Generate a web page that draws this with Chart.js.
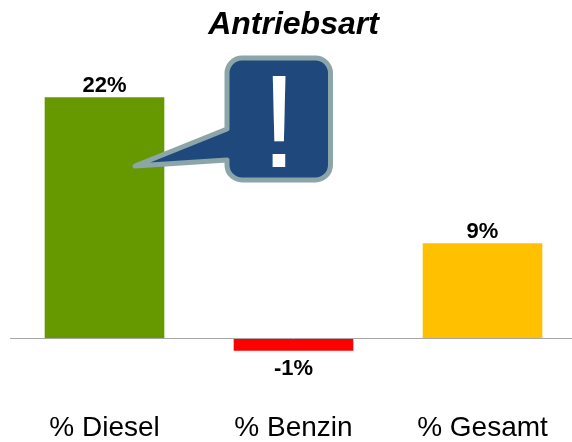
<!DOCTYPE html>
<html><head><meta charset="utf-8">
<style>html,body{margin:0;padding:0;background:#fff;overflow:hidden}#w{position:absolute;left:0;top:0;width:572px;height:442px;overflow:hidden}#w div{position:relative;width:584px;height:455px}</style>
<script src="https://cdn.jsdelivr.net/npm/chart.js@4"></script>
</head><body><div id="w"><div><canvas id="c"></canvas></div></div>
<script>
const categories = ['% Diesel', '% Benzin', '% Gesamt'];
const values = [22, -1.1, 8.7];
const valueLabels = ['22%', '-1%', '9%'];
const barColors = ['#669900', '#FF0000', '#FFC000'];
const FONT = '"Liberation Sans", Arial, sans-serif';

const valueLabelPlugin = {
  id: 'valueLabels',
  afterDatasetsDraw(chart) {
    const ctx = chart.ctx, meta = chart.getDatasetMeta(0);
    ctx.save();
    ctx.font = 'bold 22px ' + FONT;
    ctx.fillStyle = '#000';
    ctx.textAlign = 'center';
    meta.data.forEach((bar, i) => {
      const neg = values[i] < 0;
      ctx.textBaseline = 'alphabetic';
      ctx.fillText(valueLabels[i], bar.x, neg ? bar.y + 24 : bar.y - 5);
    });
    ctx.restore();
  }
};

const calloutPlugin = {
  id: 'callout',
  afterDatasetsDraw(chart) {
    const ctx = chart.ctx;
    const l = 227, r = 330.5, t = 58, b = 180, rad = 15;
    ctx.save();
    ctx.beginPath();
    ctx.moveTo(l + rad, t);
    ctx.arcTo(r, t, r, t + rad, rad);
    ctx.arcTo(r, b, r - rad, b, rad);
    ctx.arcTo(l, b, l, b - rad, rad);
    ctx.lineTo(l, 160);
    ctx.lineTo(135, 166);
    ctx.lineTo(l, 129);
    ctx.arcTo(l, t, l + rad, t, rad);
    ctx.closePath();
    ctx.fillStyle = '#1F497D';
    ctx.fill();
    ctx.lineWidth = 5;
    ctx.lineJoin = 'round';
    ctx.strokeStyle = '#8CA5A9';
    ctx.stroke();
    ctx.font = '132px ' + FONT;
    ctx.fillStyle = '#fff';
    ctx.textAlign = 'center';
    ctx.textBaseline = 'alphabetic';
    ctx.fillText('!', 279, 167);
    ctx.restore();
  }
};

new Chart(document.getElementById('c'), {
  type: 'bar',
  data: { labels: categories, datasets: [{ data: values, backgroundColor: barColors, categoryPercentage: 1, barPercentage: 0.633 }] },
  plugins: [valueLabelPlugin, calloutPlugin],
  options: {
    responsive: true, maintainAspectRatio: false, animation: false,
    layout: { padding: { left: 10, right: 7, top: 0, bottom: 3 } },
    plugins: {
      legend: { display: false }, tooltip: { enabled: false },
      title: { display: true, text: 'Antriebsart', color: '#000',
        font: { family: FONT, size: 32, weight: 'bold', style: 'italic' }, padding: { top: 6, bottom: 20 } }
    },
    scales: {
      x: { border: { display: false }, grid: { display: false, drawTicks: false },
        ticks: { color: '#000', font: { family: FONT, size: 28 }, padding: 7, maxRotation: 0 } },
      y: { min: -6, max: 25, display: true,
        border: { display: false },
        grid: { drawTicks: false, lineWidth: 1, color: c => c.tick.value === 0 ? '#A6A6A6' : 'transparent' },
        ticks: { display: false, stepSize: 1 } }
    }
  }
});
</script></body></html>
